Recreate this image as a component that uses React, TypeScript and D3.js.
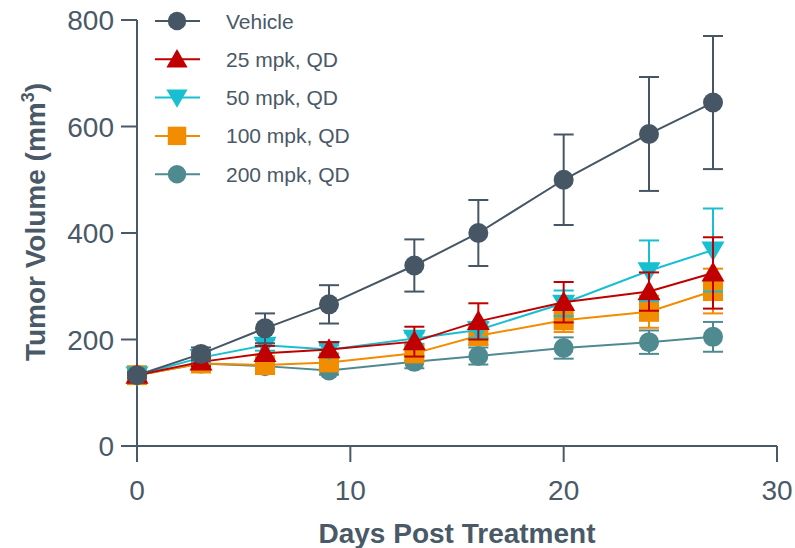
import React from "react";
import * as d3 from "d3";

// days measured
const days = [0, 3, 6, 9, 13, 16, 20, 24, 27];

const seriesNames = ["Vehicle", "25 mpk, QD", "50 mpk, QD", "100 mpk, QD", "200 mpk, QD"];

const vehicleMean = [133, 173, 221, 266, 339, 400, 500, 586, 645];
const vehicleErr = [5, 12, 28, 36, 49, 62, 85, 107, 125];

const mpk25Mean = [133, 158, 174, 181, 196, 234, 270, 290, 325];
const mpk25Err = [5, 8, 14, 14, 28, 34, 38, 36, 67];

const mpk50Mean = [133, 166, 189, 181, 202, 218, 268, 329, 368];
const mpk50Err = [5, 8, 10, 8, 10, 15, 24, 57, 78];

const mpk100Mean = [133, 155, 152, 157, 174, 207, 236, 252, 291];
const mpk100Err = [5, 6, 8, 10, 14, 17, 22, 30, 42];

const mpk200Mean = [133, 155, 150, 142, 158, 169, 184, 195, 205];
const mpk200Err = [5, 6, 8, 8, 12, 16, 20, 22, 28];

const xTicks = [0, 10, 20, 30];
const yTicks = [0, 200, 400, 600, 800];

const colors = ["#465665", "#c00000", "#18bfd1", "#f28c00", "#4f8a91"];
const shapes = ["circle", "triangle", "triangleDown", "square", "circle"];
const means = [vehicleMean, mpk25Mean, mpk50Mean, mpk100Mean, mpk200Mean];
const errs = [vehicleErr, mpk25Err, mpk50Err, mpk100Err, mpk200Err];

const textColor = "#4a5967";
const font = "'Liberation Sans', Arial, sans-serif";

function markerPath(shape: string, scale = 1) {
  if (shape === "circle") return d3.symbol(d3.symbolCircle, Math.PI * 100 * scale)();
  if (shape === "square") return d3.symbol(d3.symbolSquare, 400 * scale)();
  return d3.symbol(d3.symbolTriangle, 230 * scale)();
}

function Marker({ shape, x, y, color, scale = 1 }: { shape: string; x: number; y: number; color: string; scale?: number }) {
  const rot = shape === "triangleDown" ? " rotate(180)" : "";
  const dy = shape === "triangle" ? 2 : shape === "triangleDown" ? -2 : 0;
  return <path d={markerPath(shape, scale) || ""} transform={`translate(${x},${y + dy})${rot}`} fill={color} />;
}

export default function App() {
  const width = 795;
  const height = 548;

  const x = d3.scaleLinear().domain([0, 30]).range([137, 777]);
  const y = d3.scaleLinear().domain([0, 800]).range([446, 20]);

  const line = d3
    .line<number>()
    .x((_, i) => x(days[i]))
    .y((d) => y(d));

  // draw order: bottom to top
  const order = [4, 3, 2, 1, 0];

  return (
    <div style={{ position: "absolute", left: 0, top: 0 }}>
      <svg width={width} height={height} style={{ display: "block", fontFamily: font }}>
        <rect width={width} height={height} fill="#fff" />

        {/* axes */}
        <g stroke={textColor} strokeWidth={2} fill="none">
          <line x1={x(0)} x2={x(0)} y1={y(800)} y2={462} />
          <line x1={121} x2={x(30)} y1={y(0)} y2={y(0)} />
          {yTicks.map((t) => (
            <line key={"yt" + t} x1={121} x2={x(0)} y1={y(t)} y2={y(t)} />
          ))}
          {xTicks.map((t) => (
            <line key={"xt" + t} x1={x(t)} x2={x(t)} y1={y(0)} y2={462} />
          ))}
        </g>
        {yTicks.map((t) => (
          <text key={"yl" + t} x={114} y={y(t)} dy="0.36em" textAnchor="end" fontSize={28} fill={textColor}>
            {t}
          </text>
        ))}
        {xTicks.map((t) => (
          <text key={"xl" + t} x={x(t)} y={500} textAnchor="middle" fontSize={28} fill={textColor}>
            {t}
          </text>
        ))}
        <text x={457} y={543} textAnchor="middle" fontSize={28} fontWeight="bold" fill={textColor}>
          Days Post Treatment
        </text>
        <text
          transform={`translate(45,222) rotate(-90)`}
          textAnchor="middle"
          fontSize={28}
          fontWeight="bold"
          fill={textColor}
        >
          Tumor Volume (mm
          <tspan fontSize={18} dy={-11}>
            3
          </tspan>
          <tspan dy={11}>)</tspan>
        </text>

        {/* series */}
        {order.map((s) => (
          <g key={"s" + s}>
            <path d={line(means[s]) || ""} fill="none" stroke={colors[s]} strokeWidth={2} />
            {means[s].map((m, i) => {
              const cx = x(days[i]);
              const top = y(m + errs[s][i]);
              const bot = y(m - errs[s][i]);
              return (
                <g key={i} stroke={colors[s]} strokeWidth={2}>
                  <line x1={cx} x2={cx} y1={top} y2={bot} />
                  <line x1={cx - 10} x2={cx + 10} y1={top} y2={top} />
                  <line x1={cx - 10} x2={cx + 10} y1={bot} y2={bot} />
                </g>
              );
            })}
            {means[s].map((m, i) => (
              <Marker key={"m" + i} shape={shapes[s]} x={x(days[i])} y={y(m)} color={colors[s]} />
            ))}
          </g>
        ))}

        {/* legend */}
        {seriesNames.map((name, i) => {
          const ly = 21 + i * 38.3;
          return (
            <g key={"lg" + i}>
              <line x1={155} x2={200} y1={ly} y2={ly} stroke={colors[i]} strokeWidth={2} />
              <Marker shape={shapes[i]} x={177} y={ly} color={colors[i]} scale={0.85} />
              <text x={226} y={ly} dy="0.36em" fontSize={21} fill={textColor}>
                {name}
              </text>
            </g>
          );
        })}
      </svg>
    </div>
  );
}
